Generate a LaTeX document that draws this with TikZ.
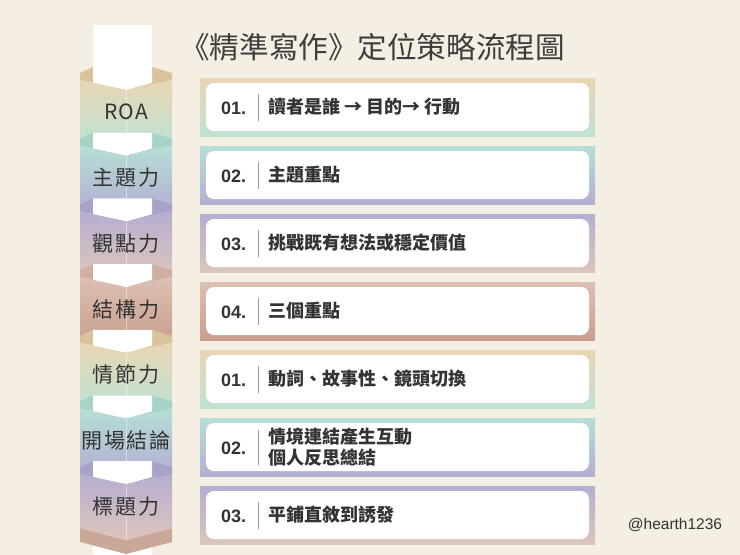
\documentclass[tikz,border=0pt]{standalone}
\usepackage{fontspec}
\setmainfont{Noto Sans CJK TC}
\newfontfamily\cjk{Noto Sans CJK TC}
\newfontfamily\handlefont{Liberation Sans}
\definecolor{bg}{HTML}{F5EFE3}
\definecolor{tanA}{HTML}{E9D5B3}
\definecolor{mintA}{HTML}{BEE3D3}
\definecolor{mintB}{HTML}{B6DFD6}
\definecolor{lavB}{HTML}{B2B0D3}
\definecolor{lavC}{HTML}{B6AED1}
\definecolor{roseC}{HTML}{DDC5BD}
\definecolor{roseD}{HTML}{DCC0B4}
\definecolor{brownD}{HTML}{C99F8D}
\definecolor{roofA}{HTML}{D9C39C}
\definecolor{roofB}{HTML}{A5D3C8}
\definecolor{roofC}{HTML}{A8A1C8}
\definecolor{roofD}{HTML}{CFAFA2}
\definecolor{roofE}{HTML}{C9A898}
\definecolor{inkc}{HTML}{333333}
\definecolor{titlec}{HTML}{3D3D3D}
\definecolor{barc}{HTML}{9A9A9A}
\begin{document}
\begin{tikzpicture}[x=1pt,y=-1pt,
  wbox/.style={fill=white, rounded corners=8pt, inner sep=0pt, minimum width=383pt, minimum height=48pt},
  numst/.style={anchor=west, inner sep=0pt, text=inkc, font=\handlefont\bfseries\fontsize{18}{20}\selectfont},
  txtst/.style={anchor=west, inner sep=0pt, text=inkc, align=left, font=\cjk\bfseries\fontsize{18}{20.5}\selectfont},
  barst/.style={draw=barc, line width=0.8pt},
  labst/.style={inner sep=0pt, text=inkc, font=\cjk\fontsize{21}{24}\selectfont},
  facecrease/.style={draw=white, opacity=0.45, line width=0.6pt}]
\useasboundingbox (0,0) rectangle (740,555);
\fill[bg] (0,0) rectangle (740,555);

% title
\node[anchor=west, inner sep=0pt, text=titlec, font=\cjk\fontsize{29.6}{32}\selectfont] (title) at (180,47) {《精準寫作》定位策略流程圖};

% bottom end of the column
\fill[white] (93,540) rectangle (152,555);
\fill[roofE] (80,528) -- (126,540) -- (172,528) -- (172,542) -- (126,554) -- (80,542) -- cycle;

% column segments
\foreach \i/\ta/\tb/\rf/\lab in {
  0/tanA/mintA/roofA/{R\kern1pt O\kern1pt A},
  1/mintB/lavB/roofB/{主\kern2.5pt 題\kern2.5pt 力},
  2/lavC/roseC/roofC/{觀\kern2.5pt 點\kern2.5pt 力},
  3/roseD/brownD/roofD/{結\kern2.5pt 構\kern2.5pt 力},
  4/tanA/mintA/roofA/{情\kern2.5pt 節\kern2.5pt 力},
  5/mintB/lavB/roofB/{開\kern1.5pt 場\kern1.5pt 結\kern1.5pt 論},
  6/lavC/roseC/roofC/{標\kern2.5pt 題\kern2.5pt 力}}{
  \pgfmathsetmacro\T{65+65.7*\i}
  \fill[\rf] (80,\T+8) -- (93,\T+2) -- (152,\T+2) -- (172,\T+8) -- (172,\T+15) -- (126,\T+25) -- (80,\T+15) -- cycle;
  \ifnum\i=0
    \fill[white] (93,25) -- (152,25) -- (152,\T+17.8) -- (126,\T+25) -- (93,\T+17.8) -- cycle;
  \else
    \fill[white] (93,\T+2) -- (152,\T+2) -- (152,\T+17.8) -- (126,\T+25) -- (93,\T+17.8) -- cycle;
  \fi
  \ifnum\i<6
    \shade[top color=\ta, bottom color=\tb] (80,\T+15) -- (126,\T+25) -- (172,\T+15) -- (172,\T+80) -- (80,\T+80) -- cycle;
    \draw[facecrease] (126,\T+25) -- (126,\T+74);
  \else
    \shade[top color=\ta, bottom color=\tb] (80,\T+15) -- (126,\T+25) -- (172,\T+15) -- (172,528) -- (126,540) -- (80,528) -- cycle;
    \draw[facecrease] (126,\T+25) -- (126,540);
  \fi
  \node[labst] (s\i) at (126,\T+47) {\lab};
}

% rows
\foreach \j/\ta/\tb/\num/\txt in {
  0/tanA/mintA/01./{讀者是誰 → 目的→ 行動},
  1/mintB/lavB/02./{主題重點},
  2/lavC/roseC/03./{挑戰既有想法或穩定價值},
  3/roseD/brownD/04./{三個重點},
  4/tanA/mintA/01./{動詞、故事性、鏡頭切換},
  6/lavC/roseC/03./{平鋪直敘到誘發}}{
  \pgfmathsetmacro\T{78+68*\j}
  \shade[top color=\ta, bottom color=\tb] (200,\T) rectangle (595,\T+58);
  \node[wbox] (w\j) at (397.5,\T+29) {};
  \node[numst] (n\j) at (221,\T+30) {\num};
  \coordinate (bt\j) at (258,\T+16);
  \coordinate (bb\j) at (258,\T+43);
  \draw[barst] (bt\j) -- (bb\j);
  \node[txtst] (t\j) at (268,\T+29) {\txt};
}
% row with two lines
\shade[top color=mintB, bottom color=lavB] (200,418) rectangle (595,476);
\node[wbox] (w5) at (397.5,447) {};
\node[numst] (n5) at (221,448) {02.};
\coordinate (bt5) at (258,430);
\coordinate (bb5) at (258,465);
\draw[barst] (bt5) -- (bb5);
\node[txtst] (t5) at (268,447) {情境連結產生互動\\個人反思總結};

% handle
\node[inner sep=0pt, text=inkc, font=\handlefont\fontsize{15.5}{18}\selectfont] (handle) at (675,525) {@hearth1236};
\end{tikzpicture}
\end{document}
